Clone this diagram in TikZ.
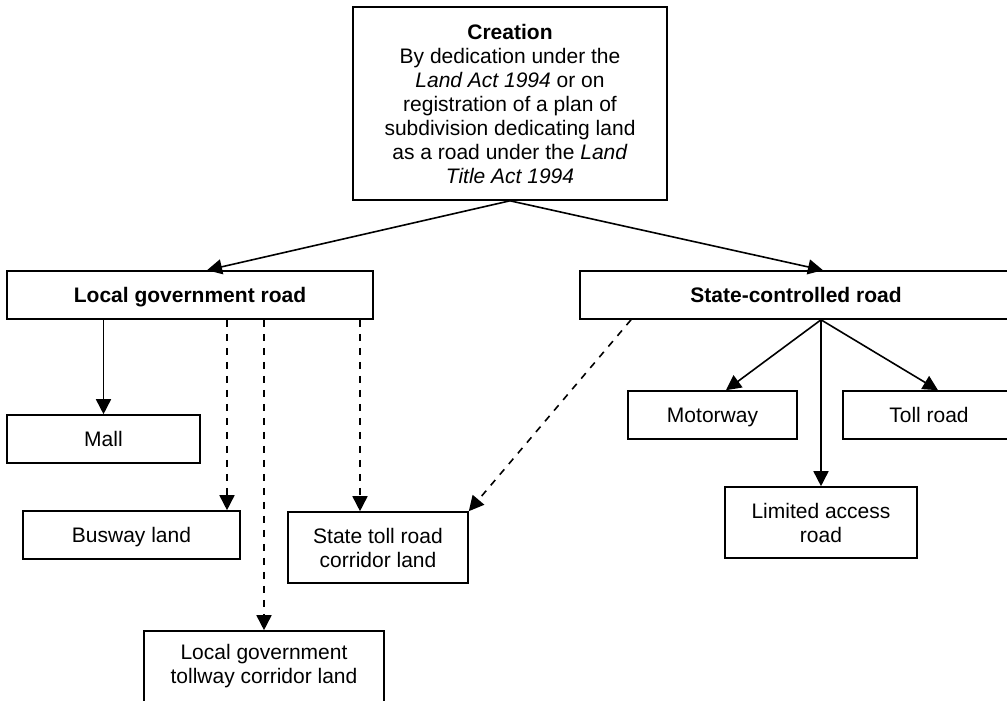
\documentclass[tikz,border=0pt]{standalone}
\usepackage{fontspec}
\setmainfont{Liberation Sans}
\usetikzlibrary{arrows.meta}
\begin{document}
\begin{tikzpicture}[x=1pt,y=-1pt,
  box/.style={draw=black,line width=1.6pt,fill=white,inner sep=0pt,align=center,
    font=\fontsize{21}{24}\selectfont},
  one/.style={box,text height=15pt,text depth=0pt},
  arr/.style={line width=1.6pt,-{Triangle[length=15pt,width=15pt]}},
  darr/.style={arr,dash pattern=on 7pt off 7pt}]
\useasboundingbox (0,0) rectangle (1007,701);
\clip (0,0) rectangle (1007,701);
\node[box,minimum width=314pt,minimum height=193pt] (top) at (510,103.5)
  {\textbf{Creation}\\By dedication under the\\\textit{Land Act 1994} or on\\registration of a plan of\\subdivision dedicating land\\as a road under the \textit{Land}\\\textit{Title Act 1994}};
\node[one,minimum width=366pt,minimum height=48pt] (lgr) at (190,295) {\textbf{Local government road}};
\node[one,minimum width=432pt,minimum height=48pt] (scr) at (796,295) {\textbf{State-controlled road}};
\node[one,minimum width=193pt,minimum height=48pt] (mall) at (103.5,439) {Mall};
\node[one,minimum width=217pt,minimum height=48pt] (busway) at (131.5,535) {Busway land};
\node[box,minimum width=180pt,minimum height=71pt] (stoll) at (378,547.5) {State toll road\\corridor land};
\node[box,minimum width=240pt,minimum height=71pt] (lgtoll) at (264,666.5) {Local government\\tollway corridor land};
\node[one,minimum width=169pt,minimum height=48pt] (motor) at (712.5,415) {Motorway};
\node[one,minimum width=172pt,minimum height=48pt] (tollr) at (929,415) {Toll road};
\node[box,minimum width=192pt,minimum height=71pt] (limit) at (821,522.5) {Limited access\\road};
\coordinate (hub) at ([xshift=25pt]scr.south);
\draw[arr] (top.south) -- ([xshift=17pt]lgr.north);
\draw[arr] (top.south) -- ([xshift=27pt]scr.north);
\draw[arr] (mall.north |- lgr.south) -- (mall.north);
\draw[darr] ([xshift=95.5pt]busway.north |- lgr.south) -- ([xshift=95.5pt]busway.north);
\draw[darr] (lgtoll.north |- lgr.south) -- (lgtoll.north);
\draw[darr] ([xshift=-18pt]stoll.north |- lgr.south) -- ([xshift=-18pt]stoll.north);
\draw[darr] ([xshift=-165pt]scr.south) -- (stoll.north east);
\draw[arr] (hub) -- ([xshift=13.5pt]motor.north);
\draw[arr] (hub) -- ([xshift=9pt]tollr.north);
\draw[arr] (hub) -- (limit.north);
\end{tikzpicture}
\end{document}
